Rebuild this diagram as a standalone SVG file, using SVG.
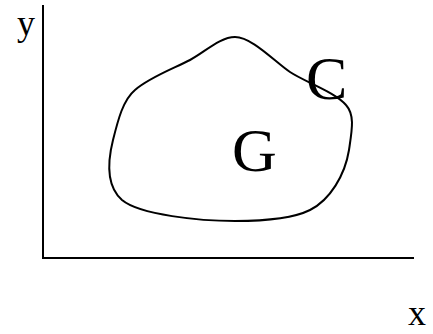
<svg xmlns="http://www.w3.org/2000/svg" width="433" height="334" viewBox="0 0 433 334">
<style>
.ln{fill:none;stroke:#000;stroke-width:2}
.t{font-family:"Liberation Serif","Times New Roman",serif;fill:#000}
</style>
<rect width="433" height="334" fill="#fff"/>
<g id="axes">
<path class="ln" d="M43,5 V258 H414"/>
</g>
<g id="curve">
<path class="ln" d="M235,37 C252,37 275,62 290,72 C305,82 335,92 346,105 C355,115 352,130 349,150 C345,175 330,200 310,210 C290,220 250,221 235,221 C200,221 140,215 122,200 C105,185 108,160 113,140 C118,120 123,100 135,90 C150,77 175,68 190,60 C205,52 220,37 235,37 Z"/>
</g>
<g id="labels">
<text class="t" x="408" y="325" font-size="36">x</text>
<text class="t" x="17" y="35" font-size="36">y</text>
<text class="t" x="306" y="99" font-size="62">C</text>
<text class="t" x="232" y="171" font-size="62">G</text>
</g>
</svg>
